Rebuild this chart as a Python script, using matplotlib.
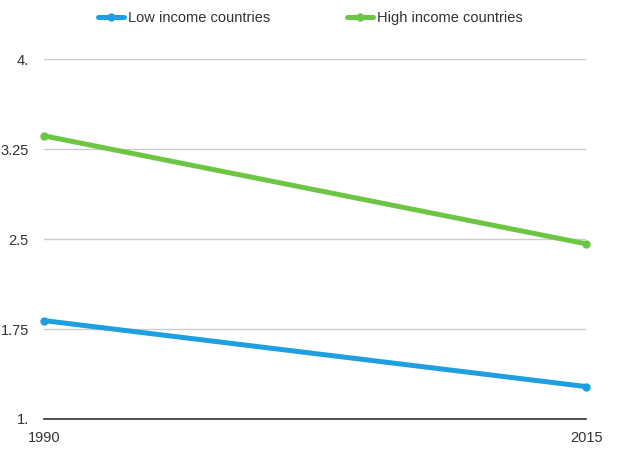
import matplotlib
matplotlib.use('Agg')
import matplotlib.pyplot as plt

# chart values
years = [1990, 2015]
low_income = [1.82, 1.27]
high_income = [3.36, 2.46]
yticks = [1.0, 1.75, 2.5, 3.25, 4.0]
ytick_labels = ['1.', '1.75', '2.5', '3.25', '4.']

plt.rcParams['font.family'] = ['Liberation Sans', 'DejaVu Sans']

fig = plt.figure(figsize=(6.4, 4.51), dpi=100)
ax = fig.add_axes([0.069, 0.071, 0.847, 0.798])

ax.plot(years, low_income, color='#1e9fe0', lw=3.6, marker='o', markersize=5,
        solid_capstyle='round', clip_on=False, label='Low income countries')
ax.plot(years, high_income, color='#6cc644', lw=3.6, marker='o', markersize=5,
        solid_capstyle='round', clip_on=False, label='High income countries')

ax.set_xlim(years[0], years[1])
ax.set_ylim(1.0, 4.0)
ax.set_yticks(yticks)
ax.set_yticklabels(ytick_labels)
ax.set_xticks(years)
ax.set_xticklabels([str(y) for y in years])
ax.grid(axis='y', color='#cccccc', lw=1)
ax.set_axisbelow(True)

for s in ['top', 'right', 'left']:
    ax.spines[s].set_visible(False)
ax.spines['bottom'].set_color('#333333')
ax.spines['bottom'].set_linewidth(1.2)
ax.tick_params(length=0, labelsize=10.5, colors='#333333')
ax.tick_params(axis='y', pad=11)
ax.tick_params(axis='x', pad=9)

fig.legend(loc='upper center', bbox_to_anchor=(0.485, 1.005), ncol=2, frameon=False,
           fontsize=10.5, handlelength=1.8, columnspacing=5.2, handletextpad=0.3,
           labelcolor='#333333')

fig.savefig('out.png', dpi=100)
